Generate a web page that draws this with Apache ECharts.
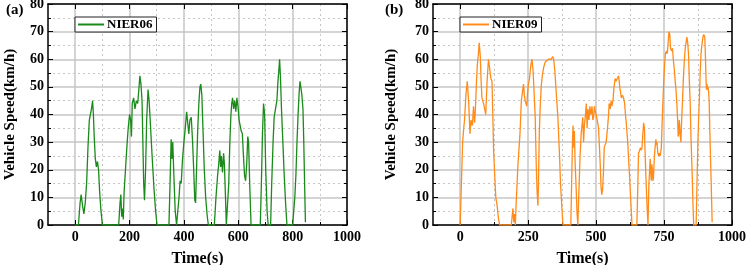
<!DOCTYPE html>
<html>
<head>
<meta charset="utf-8">
<script src="https://cdn.jsdelivr.net/npm/echarts@6/dist/echarts.min.js"></script>
<style>
  html, body { margin: 0; padding: 0; background: #fff; }
  #main { width: 746px; height: 265px; }
</style>
</head>
<body>
<div id="main"></div>
<script>
// NIER06 cycle
var nier06Time = [0,12,18,22,27,32,37,42,47,52,56,60,64,67,70,74,78,82,86,90,95,100,
  160,165,168,171,174,177,180,185,190,195,200,204,207,210,215,220,225,230,235,238,242,246,249,252,255,259,263,268,272,277,283,290,296,301,
  345,349,353,356,359,363,368,373,378,382,386,390,395,400,405,410,414,418,422,427,432,436,440,443,447,451,455,459,462,466,470,475,480,486,490,
  512,518,524,528,532,535,538,542,546,549,553,556,561,565,569,573,576,579,583,587,591,595,599,603,607,611,615,619,623,627,631,635,638,642,647,
  681,685,689,693,697,701,706,710,719,723,728,732,737,742,746,750,752,755,759,764,769,774,779,
  800,804,808,812,816,820,824,827,830,834,838,841,844,847];
var nier06Speed = [0,0,8,11,7,4,8,15,28,38,40,42,45,40,32,24,21,23,20,12,5,0,
  0,8,11,3,6,2,12,20,28,35,40,38,32,44,46,42,45,44,50,54,51,45,30,15,9,20,38,49,45,36,25,13,5,0,
  0,15,31,24,30,18,5,0,0,10,16,15,24,30,35,41,37,33,38,39,30,20,9,8,22,35,44,50,51,47,35,20,10,3,0,
  0,10,18,22,27,21,25,19,26,22,10,0,0,15,30,40,44,46,42,45,41,46,43,38,36,34,33,25,18,16,22,32,30,15,0,
  0,15,33,44,40,20,5,0,0,15,30,39,42,45,52,57,60,54,42,30,18,8,0,
  0,5,10,18,30,40,48,52,50,47,42,30,15,1];

// NIER09 cycle
var nier09Time = [0,5,9,13,16,21,26,31,36,40,45,49,53,56,60,63,67,70,74,77,80,86,90,94,99,104,108,113,117,120,123,127,131,136,140,145,
  188,191,194,197,200,203,206,209,212,216,220,225,229,233,236,239,242,245,248,251,255,260,264,268,272,276,280,283,286,288,291,294,298,
  302,307,313,319,325,330,335,340,344,348,352,356,360,362,366,369,372,375,378,
  407,410,413,415,418,420,423,426,430,433,436,441,445,448,451,454,457,461,464,467,470,474,477,481,485,488,491,494,497,500,503,506,509,
  513,516,518,521,524,527,530,533,537,542,546,548,552,555,558,562,566,570,574,578,583,587,590,593,597,601,605,608,611,614,617,620,623,626,628,632,
  650,653,656,660,663,666,669,672,675,678,680,682,685,687,691,694,697,699,701,703,705,707,709,711,714,717,720,722,724,727,730,733,736,740,
  743,746,749,752,755,759,762,765,768,771,774,778,781,784,788,791,794,797,800,802,804,806,808,810,812,814,817,820,822,825,828,831,834,837,
  840,843,846,849,853,856,859,868,871,874,877,880,883,886,889,893,896,900,902,904,906,908,910,912,914,916,918,920,923,925,927];
var nier09Speed = [0,0,30,35,38,47,52,45,33,38,36,43,37,42,52,58,62,66,61,52,46,44,42,40,52,60,57,53,52,40,27,18,10,7,3,0,
  0,3,6,1,4,0,8,14,21,27,33,45,48,51,47,45,44,43,48,51,53,58,60,56,48,39,21,12,7,15,33,42,50,
  54,57,59,59,60,60,60,61,60,56,50,44,38,33,24,15,10,5,0,
  0,15,30,36,28,34,22,15,4,0,10,25,33,36,39,30,36,40,44,35,42,38,43,40,43,38,39,43,41,40,40,37,35,
  27,20,14,11,13,19,28,29,30,35,40,44,42,45,43,45,50,53,52,53,54,50,48,46,47,46,44,40,37,33,29,23,18,12,8,0,
  0,12,26,27,28,27,28,33,37,35,27,21,13,8,0,14,20,24,19,16,22,20,16,17,24,28,31,29,30,26,25,26,25,28,
  37,45,52,58,62,63,62,66,70,69,64,63,64,60,56,52,49,44,38,32,33,38,35,32,30,36,43,50,55,60,64,66,68,66,
  62,52,45,32,20,9,0,0,14,28,38,46,55,62,65,68,69,68,62,54,49,51,49,50,48,45,36,28,17,9,1];

// axis ticks
var majorTicksA = [0, 200, 400, 600, 800, 1000];
var minorTicksA = [100, 300, 500, 700, 900];
var majorTicksB = [0, 250, 500, 750, 1000];
var minorTicksB = [125, 375, 625, 875];

var font = '"Times New Roman", "Liberation Serif", serif';
var gridColor = '#c6c6c6';

function pairs(t, v) {
  return t.map(function (x, i) { return [x, v[i]]; });
}

function xAxes(g, major, minor) {
  return [
    {
      type: 'value', gridIndex: g, position: 'bottom', min: -100, max: 1000,
      name: 'Time(s)', nameLocation: 'middle', nameGap: 26,
      nameTextStyle: { fontFamily: font, fontWeight: 'bold', fontSize: 16, color: '#000' },
      axisLine: { onZero: false, lineStyle: { color: '#000', width: 1.5 } },
      axisTick: { inside: true, length: 5, customValues: major, lineStyle: { color: '#000' } },
      axisLabel: {
        customValues: major, margin: 5, fontFamily: font, fontWeight: 'bold', fontSize: 14, color: '#000',
        formatter: function (v) { return String(v); }
      },
      splitLine: { show: true, lineStyle: { color: gridColor, width: 1.5 } }
    },
    {
      type: 'value', gridIndex: g, position: 'bottom', min: -100, max: 1000,
      axisLine: { show: false, onZero: false },
      axisTick: { inside: true, length: 3, customValues: minor, lineStyle: { color: '#000' } },
      axisLabel: { show: false },
      splitLine: { show: true, lineStyle: { color: gridColor, width: 1, type: [2, 3] } }
    },
    {
      type: 'value', gridIndex: g, position: 'top', min: -100, max: 1000,
      axisLine: { onZero: false, lineStyle: { color: '#000', width: 1.5 } },
      axisTick: { inside: true, length: 5, customValues: major, lineStyle: { color: '#000' } },
      axisLabel: { show: false },
      splitLine: { show: false }
    }
  ];
}

function yAxes(g, gap) {
  return [
    {
      type: 'value', gridIndex: g, position: 'left', min: 0, max: 80, interval: 10,
      name: 'Vehicle Speed(km/h)', nameLocation: 'middle', nameGap: gap,
      nameTextStyle: { fontFamily: font, fontWeight: 'bold', fontSize: 15, color: '#000' },
      axisLine: { show: true, onZero: false, lineStyle: { color: '#000', width: 1.5 } },
      axisTick: { show: true, inside: true, length: 5, lineStyle: { color: '#000' } },
      minorTick: { show: true, splitNumber: 2, length: 3, lineStyle: { color: '#000' } },
      axisLabel: { margin: 4, fontFamily: font, fontWeight: 'bold', fontSize: 14, color: '#000' },
      splitLine: { show: true, lineStyle: { color: gridColor, width: 1.5 } },
      minorSplitLine: { show: true, lineStyle: { color: gridColor, width: 1, type: [2, 3] } }
    },
    {
      type: 'value', gridIndex: g, position: 'right', min: 0, max: 80, interval: 10,
      axisLine: { show: true, onZero: false, lineStyle: { color: '#000', width: 1.5 } },
      axisTick: { show: true, inside: true, length: 5, lineStyle: { color: '#000' } },
      minorTick: { show: true, splitNumber: 2, length: 3, lineStyle: { color: '#000' } },
      axisLabel: { show: false },
      splitLine: { show: false }
    }
  ];
}

function legendFor(name, left) {
  return {
    data: [{ name: name, icon: 'rect' }], left: left, top: 17, orient: 'vertical',
    padding: [1, 4, 1, 3], itemWidth: 26, itemHeight: 2, itemGap: 0,
    borderColor: '#222', borderWidth: 1, backgroundColor: '#fff',
    textStyle: { fontFamily: font, fontWeight: 'bold', fontSize: 13, color: '#000', padding: [0, 0, 0, -2] }
  };
}

var chart = echarts.init(document.getElementById('main'), null, { renderer: 'canvas' });

var option = {
  backgroundColor: '#fff',
  animation: false,
  title: [
    { text: '(a)', left: 1, top: -2, textStyle: { fontFamily: font, fontWeight: 'bold', fontSize: 15, color: '#000' } },
    { text: '(b)', left: 380, top: -2, textStyle: { fontFamily: font, fontWeight: 'bold', fontSize: 15, color: '#000' } }
  ],
  legend: [legendFor('NIER06', 75), legendFor('NIER09', 460)],
  grid: [
    { left: 48, top: 4, width: 299, height: 221, outerBoundsMode: 'none', containLabel: false },
    { left: 433, top: 4, width: 299, height: 221, outerBoundsMode: 'none', containLabel: false }
  ],
  xAxis: xAxes(0, majorTicksA, minorTicksA).concat(xAxes(1, majorTicksB, minorTicksB)),
  yAxis: yAxes(0, 30).concat(yAxes(1, 34)),
  series: [
    {
      name: 'NIER06', type: 'line', xAxisIndex: 0, yAxisIndex: 0,
      data: pairs(nier06Time, nier06Speed), symbol: 'none',
      lineStyle: { color: '#1a8a1a', width: 1.3 }, itemStyle: { color: '#1a8a1a' }
    },
    {
      name: 'NIER09', type: 'line', xAxisIndex: 3, yAxisIndex: 2,
      data: pairs(nier09Time, nier09Speed), symbol: 'none',
      lineStyle: { color: '#ff8c1a', width: 1.3 }, itemStyle: { color: '#ff8c1a' }
    }
  ]
};

chart.setOption(option);
</script>
</body>
</html>
